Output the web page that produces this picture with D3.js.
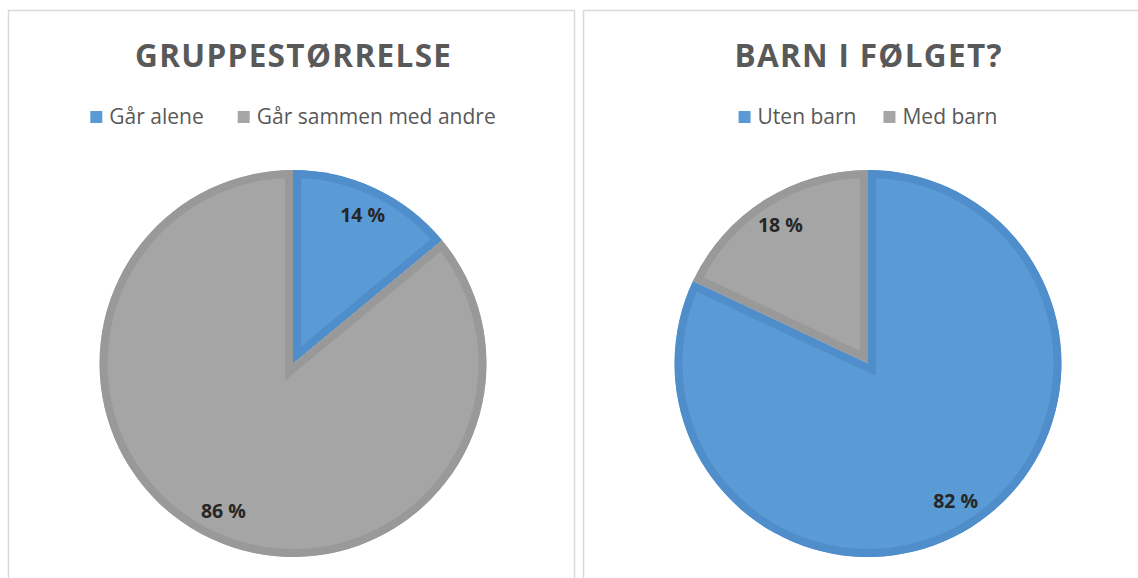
<!DOCTYPE html>
<html>
<head>
<meta charset="utf-8">
<script src="https://cdn.jsdelivr.net/npm/d3@7"></script>
<style>
  body { margin: 0; background: #fff; }
  text { font-family: "Open Sans", "Noto Sans", sans-serif; }
</style>
</head>
<body>
<div id="container"></div>
<script>
// chart data
const titles = ["GRUPPESTØRRELSE", "BARN I FØLGET?"];
const groupCategories = ["Går alene", "Går sammen med andre"];
const groupValues = [14, 86];
const childCategories = ["Uten barn", "Med barn"];
const childValues = [82, 18];
const sliceColors = ["#5b9bd5", "#a5a5a5"];
const borderColors = ["#4f8ecb", "#999999"];

const width = 1138, height = 578;

const svg = d3.select("#container").append("svg")
    .attr("width", width)
    .attr("height", height);

const defs = svg.append("defs");

const panels = [
  { x: 8, w: 567, title: titles[0], cats: groupCategories, vals: groupValues, cx: 293, titleW: 316, gap: 34 },
  { x: 583, w: 567, title: titles[1], cats: childCategories, vals: childValues, cx: 868, titleW: 267, gap: 27 }
];

const radius = 193.5;
const centerY = 363.5;
const band = 8;

const pie = d3.pie().sort(null).value(d => d);
const arc = d3.arc().innerRadius(0).outerRadius(radius);
const labelArc = d3.arc().innerRadius(radius * 0.845).outerRadius(radius * 0.845);
const color = d3.scaleOrdinal([0, 1], sliceColors);
const border = d3.scaleOrdinal([0, 1], borderColors);

panels.forEach(function(p, pi) {
  const g = svg.append("g");

  // panel frame
  g.append("rect")
      .attr("x", p.x + 0.5)
      .attr("y", 10.5)
      .attr("width", p.w - 1)
      .attr("height", height)
      .attr("fill", "#fff")
      .attr("stroke", "#d9d9d9")
      .attr("stroke-width", 1.5);

  // title
  g.append("text")
      .attr("x", p.cx)
      .attr("y", 67)
      .attr("text-anchor", "middle")
      .attr("font-size", 31.5)
      .attr("font-weight", 700)
      .attr("fill", "#595959")
      .attr("textLength", p.titleW)
      .attr("lengthAdjust", "spacing")
      .text(p.title);

  // legend
  const legendItems = p.cats.map((c, i) => ({ name: c, i: i }));
  const legend = g.append("g");
  const items = legend.selectAll("g")
      .data(legendItems)
      .enter().append("g");
  items.append("rect")
      .attr("width", 12)
      .attr("height", 12)
      .attr("y", 111)
      .attr("fill", d => color(d.i));
  items.append("text")
      .attr("x", 19)
      .attr("y", 117)
      .attr("dy", "0.35em")
      .attr("font-size", 21)
      .attr("fill", "#595959")
      .text(d => d.name);
  // lay legend items out side by side, centered on the pie
  let offset = 0;
  const widths = [];
  items.each(function() { widths.push(this.getBBox().width); });
  items.attr("transform", function(d, i) {
    const t = "translate(" + offset + ",0)";
    offset += widths[i] + p.gap;
    return t;
  });
  const totalW = offset - p.gap;
  legend.attr("transform", "translate(" + (p.cx - totalW / 2) + ",0)");

  // pie
  const pieG = g.append("g")
      .attr("transform", "translate(" + p.cx + "," + centerY + ")");
  const arcs = pie(p.vals);

  arcs.forEach(function(d, i) {
    defs.append("clipPath")
        .attr("id", "clip-" + pi + "-" + i)
        .append("path")
        .attr("d", arc(d));
  });

  pieG.selectAll("path.slice")
      .data(arcs)
      .enter().append("path")
      .attr("class", "slice")
      .attr("d", arc)
      .attr("fill", (d, i) => color(i))
      .attr("stroke", (d, i) => border(i))
      .attr("stroke-width", band * 2)
      .attr("stroke-linejoin", "miter")
      .attr("stroke-miterlimit", 20)
      .attr("clip-path", (d, i) => "url(#clip-" + pi + "-" + i + ")");

  pieG.selectAll("text.lbl")
      .data(arcs)
      .enter().append("text")
      .attr("class", "lbl")
      .attr("transform", d => "translate(" + labelArc.centroid(d) + ")")
      .attr("text-anchor", "middle")
      .attr("dy", "0.35em")
      .attr("font-size", 19.5)
      .attr("font-weight", 700)
      .attr("fill", "#262626")
      .text(d => d.data + " %");
});
</script>
</body>
</html>
